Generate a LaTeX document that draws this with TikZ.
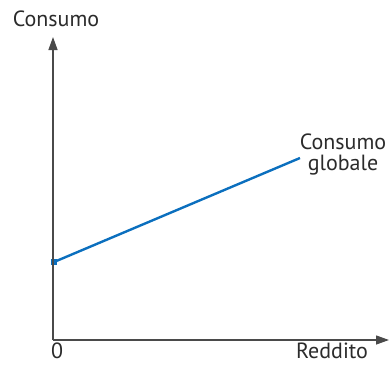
\documentclass[tikz,border=0pt]{standalone}
\usepackage{fontspec}
\setmainfont{PT Sans}
\usetikzlibrary{arrows.meta}
\definecolor{axisgray}{HTML}{4A4A4A}
\definecolor{textgray}{HTML}{2B2B2B}
\definecolor{lineblue}{HTML}{0B6FBE}
\begin{document}
\begin{tikzpicture}[x=1pt, y=-1pt,
    axis/.style = {draw=axisgray, line width=1.3pt, -{Triangle[length=13pt, width=9pt]}},
    lbl/.style = {text=textgray, inner sep=0pt, font=\fontsize{22}{21}\selectfont, align=center}]
    \useasboundingbox (0,0) rectangle (389,365);
    \coordinate (o) at (53,340);
    \coordinate (ytop) at (53,37);
    \coordinate (xend) at (389,340);
    \node[lbl, anchor=base] (cy) at (56,26) {Consumo};
    \node[lbl, anchor=base] (zero) at (57,358) {0};
    \node[lbl, anchor=base] (rx) at (332,358) {Reddito};
    \node[lbl] (cg) at (343,154) {Consumo\\globale};
    \node[fill=lineblue, inner sep=0pt, minimum size=6.5pt] (a) at (54,262) {};
    \coordinate (b) at (300,158);

    \draw[axis] (o) -- (ytop);
    \draw[axis] (o) -- (xend);
    \draw[lineblue, line width=2.4pt] (a.center) -- (b);
\end{tikzpicture}
\end{document}
